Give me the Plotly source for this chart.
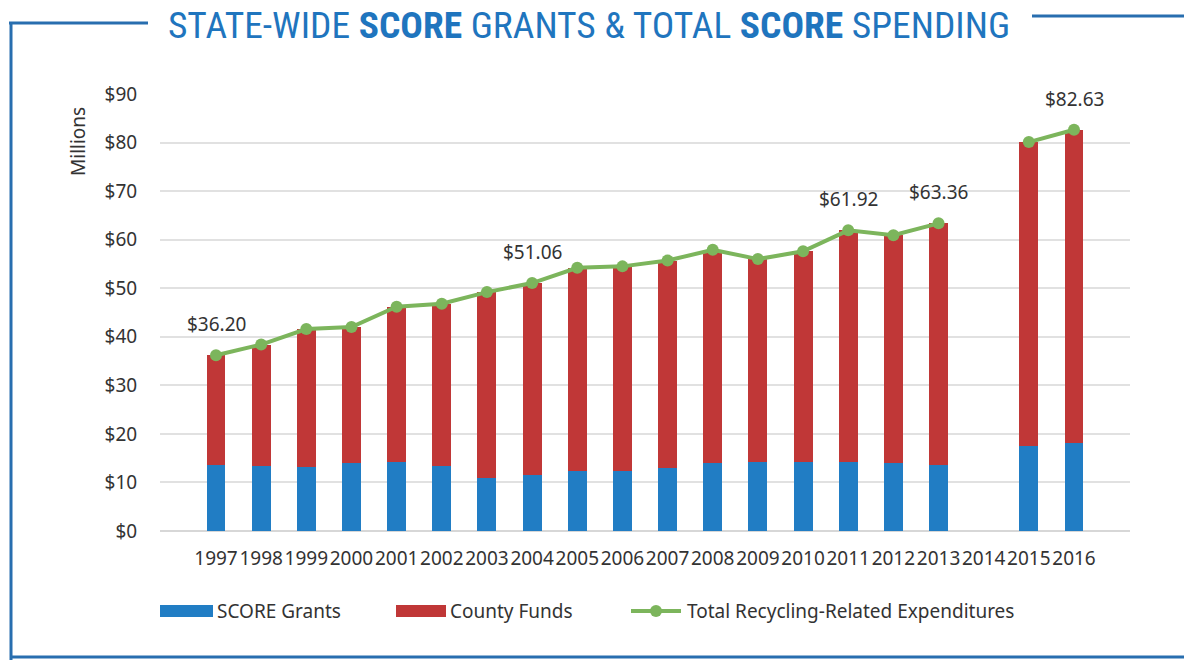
import plotly.graph_objects as go

years = [str(y) for y in range(1997, 2017)]
score_grants = [13.5, 13.3, 13.2, 14.0, 14.3, 13.4, 10.9, 11.5, 12.4, 12.4,
                12.9, 14.1, 14.2, 14.2, 14.3, 14.1, 13.6, None, 17.6, 18.1]
county_funds = [22.7, 25.1, 28.4, 28.0, 31.9, 33.4, 38.3, 39.56, 41.8, 42.1,
                42.8, 43.8, 41.8, 43.4, 47.62, 46.8, 49.76, None, 62.5, 64.53]
total_exp = [36.20, 38.4, 41.6, 42.0, 46.2, 46.8, 49.2, 51.06, 54.2, 54.5,
             55.7, 57.9, 56.0, 57.6, 61.92, 60.9, 63.36, None, 80.1, 82.63]
labeled_years = ["1997", "2004", "2011", "2013", "2016"]
y_ticks = [0, 10, 20, 30, 40, 50, 60, 70, 80, 90]
y_tick_text = ["$" + str(v) for v in y_ticks]

BLUE = "rgb(33,125,196)"
RED = "rgb(192,55,55)"
GREEN = "rgb(124,181,92)"
FRAME = "rgb(40,110,175)"
TXT = "#333333"
FONT = "Noto Sans"

W, H = 1184, 660
L, R, T, B = 160, 1130, 94, 531


def px(x):
    return (x - L) / (R - L)


def py(y):
    return (B - y) / (B - T)


fig = go.Figure()
fig.add_trace(go.Bar(x=years, y=score_grants, name="SCORE Grants",
                     marker=dict(color=BLUE, line=dict(width=0)),
                     showlegend=False))
fig.add_trace(go.Bar(x=years, y=county_funds, name="County Funds",
                     marker=dict(color=RED, line=dict(width=0)),
                     showlegend=False))
fig.add_trace(go.Scatter(x=years, y=total_exp, name="Total Recycling-Related Expenditures",
                         mode="lines+markers", connectgaps=False,
                         line=dict(color=GREEN, width=4),
                         marker=dict(color=GREEN, size=12),
                         showlegend=False))

annotations = []
for yr, v in zip(years, total_exp):
    if yr in labeled_years and v is not None:
        annotations.append(dict(xref="x", yref="y", x=years.index(yr), y=v,
                                text=f"${v:.2f}", showarrow=False,
                                xanchor="center", yanchor="middle",
                                yshift=31, font=dict(family=FONT, size=19, color=TXT)))

annotations.append(dict(xref="paper", yref="paper", x=px(78), y=py(142), text="Millions",
                        textangle=-90, showarrow=False, xanchor="center", yanchor="middle",
                        font=dict(family=FONT, size=19, color=TXT)))

# custom legend
leg_y = py(611)
shapes = []
shapes.append(dict(type="rect", xref="paper", yref="paper", x0=px(160), x1=px(213),
                   y0=py(617), y1=py(605), fillcolor=BLUE, line=dict(width=0)))
annotations.append(dict(xref="paper", yref="paper", x=px(215), y=leg_y, xanchor="left",
                        yanchor="middle", text="SCORE Grants", showarrow=False,
                        font=dict(family=FONT, size=19, color=TXT)))
shapes.append(dict(type="rect", xref="paper", yref="paper", x0=px(396), x1=px(446),
                   y0=py(617), y1=py(605), fillcolor=RED, line=dict(width=0)))
annotations.append(dict(xref="paper", yref="paper", x=px(448), y=leg_y, xanchor="left",
                        yanchor="middle", text="County Funds", showarrow=False,
                        font=dict(family=FONT, size=19, color=TXT)))
shapes.append(dict(type="line", xref="paper", yref="paper", x0=px(631), x1=px(681),
                   y0=leg_y, y1=leg_y, line=dict(color=GREEN, width=4)))
shapes.append(dict(type="circle", xref="paper", yref="paper", x0=px(650), x1=px(662),
                   y0=py(617), y1=py(605), fillcolor=GREEN, line=dict(width=0)))
annotations.append(dict(xref="paper", yref="paper", x=px(685), y=leg_y, xanchor="left",
                        yanchor="middle", text="Total Recycling-Related Expenditures",
                        showarrow=False, font=dict(family=FONT, size=19, color=TXT)))

# frame lines
for (x0, y0, x1, y1) in [(11, 23, 11, 670), (9, 23, 148, 23), (1032, 16, 1190, 16),
                         (11, 657, 1190, 657)]:
    shapes.append(dict(type="line", xref="paper", yref="paper", x0=px(x0), x1=px(x1),
                       y0=py(y0), y1=py(y1), line=dict(color=FRAME, width=3)))

fig.update_layout(
    width=W, height=H,
    margin=dict(l=L, r=W - R, t=T, b=H - B),
    barmode="stack",
    bargap=0.58,
    plot_bgcolor="white", paper_bgcolor="white",
    title=dict(text="STATE-WIDE <b>SCORE</b> GRANTS &amp; TOTAL <b>SCORE</b> SPENDING",
               x=589 / W, xanchor="center", y=1 - 25 / H, yanchor="middle",
               font=dict(family="Liberation Sans Narrow, Roboto Condensed, Roboto", size=37.5,
                         color="rgb(31,117,190)")),
    xaxis=dict(type="category", tickangle=0, showgrid=False, showline=False,
               zeroline=False, ticks="outside", ticklen=10, tickcolor="rgba(0,0,0,0)",
               tickfont=dict(family=FONT, size=19, color=TXT)),
    yaxis=dict(range=[0, 90], tickmode="array", tickvals=y_ticks, ticktext=y_tick_text,
               showgrid=True, gridcolor="rgb(225,225,225)", gridwidth=2,
               zeroline=True, zerolinecolor="rgb(215,215,215)", zerolinewidth=2,
               showline=False, ticks="outside", ticklen=18, tickcolor="rgba(0,0,0,0)",
               tickfont=dict(family=FONT, size=19, color=TXT)),
    annotations=annotations,
    shapes=shapes,
    showlegend=False,
)

fig.write_html("out.html", config={"displayModeBar": False},
               post_script="document.body.style.margin='0';document.body.style.overflow='hidden';")
